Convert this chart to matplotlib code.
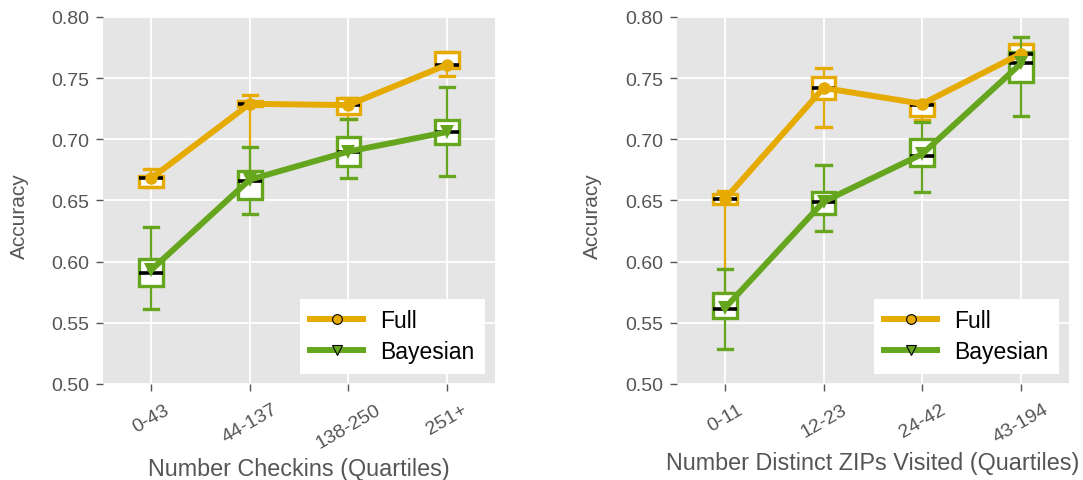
import matplotlib
matplotlib.use('Agg')
from matplotlib import pyplot as plt
from matplotlib.lines import Line2D

plt.rcParams['font.family'] = ['Liberation Sans', 'DejaVu Sans']

FULL_COLOR = '#E6AB02'
BAYES_COLOR = '#66A61E'
TEXT_GRAY = '#555555'

checkin_labels = ['0-43', '44-137', '138-250', '251+']
zip_labels = ['0-11', '12-23', '24-42', '43-194']

# accuracy by checkin quartile
checkin_full_mean = [0.668, 0.729, 0.728, 0.761]
checkin_full_med = [0.668, 0.729, 0.728, 0.761]
checkin_full_q1 = [0.661, 0.727, 0.721, 0.758]
checkin_full_q3 = [0.670, 0.731, 0.734, 0.771]
checkin_full_lo = [0.661, 0.652, 0.717, 0.752]
checkin_full_hi = [0.676, 0.736, 0.734, 0.771]

checkin_bayes_mean = [0.593, 0.667, 0.690, 0.706]
checkin_bayes_med = [0.591, 0.666, 0.690, 0.706]
checkin_bayes_q1 = [0.580, 0.651, 0.678, 0.696]
checkin_bayes_q3 = [0.602, 0.674, 0.702, 0.716]
checkin_bayes_lo = [0.561, 0.639, 0.668, 0.670]
checkin_bayes_hi = [0.628, 0.694, 0.717, 0.743]

# accuracy by distinct ZIP quartile
zip_full_mean = [0.651, 0.742, 0.729, 0.770]
zip_full_med = [0.651, 0.742, 0.728, 0.770]
zip_full_q1 = [0.647, 0.733, 0.719, 0.766]
zip_full_q3 = [0.655, 0.751, 0.730, 0.778]
zip_full_lo = [0.574, 0.710, 0.716, 0.766]
zip_full_hi = [0.658, 0.758, 0.731, 0.778]

zip_bayes_mean = [0.562, 0.649, 0.688, 0.762]
zip_bayes_med = [0.561, 0.649, 0.686, 0.762]
zip_bayes_q1 = [0.554, 0.639, 0.678, 0.747]
zip_bayes_q3 = [0.574, 0.657, 0.700, 0.771]
zip_bayes_lo = [0.529, 0.625, 0.657, 0.719]
zip_bayes_hi = [0.594, 0.679, 0.714, 0.784]


def box_stats(med, q1, q3, lo, hi):
    return [dict(med=m, q1=a, q3=b, whislo=l, whishi=h, fliers=[])
            for m, a, b, l, h in zip(med, q1, q3, lo, hi)]


def draw_boxes(ax, stats, color):
    pos = range(1, len(stats) + 1)
    ax.bxp(stats, positions=pos, widths=0.24, capwidths=0.145,
           patch_artist=True, showfliers=False, manage_ticks=False,
           boxprops=dict(facecolor='white', edgecolor=color, linewidth=2.4),
           medianprops=dict(color='black', linewidth=2.6),
           whiskerprops=dict(color=color, linewidth=1.6),
           capprops=dict(color=color, linewidth=2.4))


def style_axes(ax, labels, xlabel):
    ax.set_facecolor('#E5E5E5')
    for s in ax.spines.values():
        s.set_visible(False)
    ax.grid(True, color='white', linewidth=1.3)
    ax.set_axisbelow(True)
    ax.set_xlim(0.514, 4.486)
    ax.set_ylim(0.50, 0.80)
    ax.set_yticks([0.50, 0.55, 0.60, 0.65, 0.70, 0.75, 0.80])
    ax.set_yticklabels(['%.2f' % v for v in ax.get_yticks()])
    ax.set_xticks(range(1, len(labels) + 1))
    ax.set_xticklabels(labels, rotation=30, ha='center')
    ax.tick_params(direction='out', length=5, width=1, color=TEXT_GRAY,
                   labelcolor=TEXT_GRAY, labelsize=14, pad=5)
    ax.tick_params(axis='x', pad=7)
    ax.set_xlabel(xlabel, fontsize=16.8, color=TEXT_GRAY, labelpad=4)
    ax.set_ylabel('Accuracy', fontsize=15, color=TEXT_GRAY)
    ax.yaxis.set_label_coords(-0.19, 0.46)


def panel(ax, labels, xlabel, full, bayes, full_mean, bayes_mean):
    x = range(1, len(labels) + 1)
    draw_boxes(ax, full, FULL_COLOR)
    draw_boxes(ax, bayes, BAYES_COLOR)
    ax.plot(x, full_mean, color=FULL_COLOR, lw=4.3, marker='o',
            markersize=9, markeredgewidth=0, zorder=4)
    ax.plot(x, bayes_mean, color=BAYES_COLOR, lw=4.3, marker='v',
            markersize=10, markeredgewidth=0, zorder=4)
    style_axes(ax, labels, xlabel)

    handles = [
        Line2D([], [], color=FULL_COLOR, lw=4.3, marker='o', markersize=7,
               markerfacecolor=FULL_COLOR, markeredgecolor='black',
               markeredgewidth=0.8),
        Line2D([], [], color=BAYES_COLOR, lw=4.3, marker='v', markersize=7,
               markerfacecolor=BAYES_COLOR, markeredgecolor='black',
               markeredgewidth=0.8),
    ]
    leg = ax.legend(handles, ['Full', 'Bayesian'], loc='lower right',
                    fontsize=16.5, frameon=True, fancybox=False,
                    framealpha=1, facecolor='white', edgecolor='white',
                    handlelength=2.3, handletextpad=0.75,
                    labelspacing=0.35, borderpad=0.45, borderaxespad=0.45)
    leg.get_frame().set_linewidth(0)


fig = plt.figure(figsize=(10.83, 4.81), dpi=100)
ax1 = fig.add_axes([0.0951, 0.1996, 0.362, 0.763])
ax2 = fig.add_axes([0.625, 0.1996, 0.362, 0.763])

panel(ax1, checkin_labels, 'Number Checkins (Quartiles)',
      box_stats(checkin_full_med, checkin_full_q1, checkin_full_q3,
                checkin_full_lo, checkin_full_hi),
      box_stats(checkin_bayes_med, checkin_bayes_q1, checkin_bayes_q3,
                checkin_bayes_lo, checkin_bayes_hi),
      checkin_full_mean, checkin_bayes_mean)

panel(ax2, zip_labels, 'Number Distinct ZIPs Visited (Quartiles)',
      box_stats(zip_full_med, zip_full_q1, zip_full_q3,
                zip_full_lo, zip_full_hi),
      box_stats(zip_bayes_med, zip_bayes_q1, zip_bayes_q3,
                zip_bayes_lo, zip_bayes_hi),
      zip_full_mean, zip_bayes_mean)

fig.savefig('out.png', dpi=100, facecolor='white')
